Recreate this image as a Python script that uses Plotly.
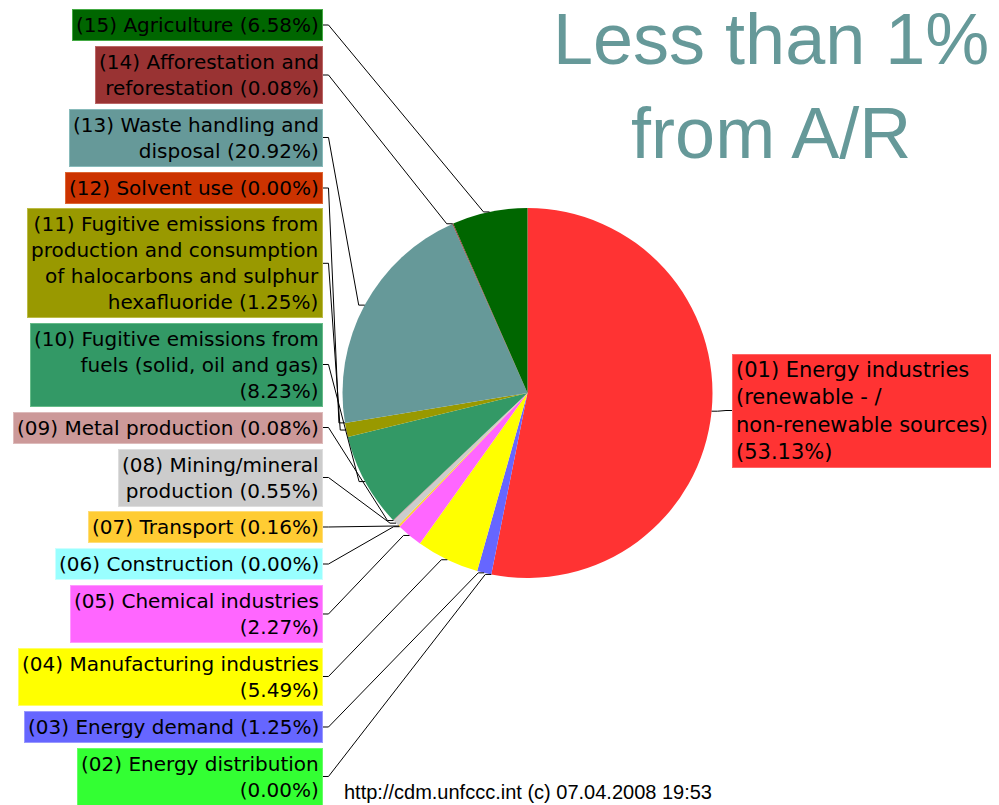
import math
import plotly.graph_objects as go

# ---------------- data ----------------
codes = ["(01)", "(02)", "(03)", "(04)", "(05)", "(06)", "(07)", "(08)",
         "(09)", "(10)", "(11)", "(12)", "(13)", "(14)", "(15)"]
sectors = [
    "Energy industries (renewable - / non-renewable sources)",
    "Energy distribution",
    "Energy demand",
    "Manufacturing industries",
    "Chemical industries",
    "Construction",
    "Transport",
    "Mining/mineral production",
    "Metal production",
    "Fugitive emissions from fuels (solid, oil and gas)",
    "Fugitive emissions from production and consumption of halocarbons and sulphur hexafluoride",
    "Solvent use",
    "Waste handling and disposal",
    "Afforestation and reforestation",
    "Agriculture",
]
shares = [53.13, 0.00, 1.25, 5.49, 2.27, 0.00, 0.16, 0.55,
          0.08, 8.23, 1.25, 0.00, 20.92, 0.08, 6.58]

# wrapped label text (the percentage is filled in from `shares`)
label_templates = [
    "(01) Energy industries<br>(renewable - /<br>non-renewable sources)<br>{pct}",
    "(02) Energy distribution<br>{pct}",
    "(03) Energy demand {pct}",
    "(04) Manufacturing industries<br>{pct}",
    "(05) Chemical industries<br>{pct}",
    "(06) Construction {pct}",
    "(07) Transport {pct}",
    "(08) Mining/mineral<br>production {pct}",
    "(09) Metal production {pct}",
    "(10) Fugitive emissions from<br>fuels (solid, oil and gas)<br>{pct}",
    "(11) Fugitive emissions from<br>production and consumption<br>of halocarbons and sulphur<br>hexafluoride {pct}",
    "(12) Solvent use {pct}",
    "(13) Waste handling and<br>disposal {pct}",
    "(14) Afforestation and<br>reforestation {pct}",
    "(15) Agriculture {pct}",
]

title_text = "Less than 1%<br>from A/R"
footer_text = "http://cdm.unfccc.int (c) 07.04.2008 19:53"

# ---------------- styling / layout ----------------
colors = ["#FF3333", "#33FF33", "#6666FF", "#FFFF00", "#FF66FF", "#99FFFF",
          "#FFCC33", "#CCCCCC", "#CC9999", "#339966", "#999900", "#CC3300",
          "#669999", "#993333", "#006600"]
border_colors = ["#FF6666", "#66FF66", "#9999FF", "#FFFF66", "#FF99FF", "#CCFFFF",
                 "#FFDD77", "#DDDDDD", "#DDBBBB", "#66BB88", "#BBBB44", "#DD6633",
                 "#88BBBB", "#BB6666", "#44AA44"]
# vertical centre of each label box (screen pixels from top)
label_y_px = [410.5, 776.5, 727.0, 676.5, 614.0, 564.0, 527.0, 477.5,
              427.5, 364.5, 263.3, 188.0, 137.5, 75.0, 25.0]
label_side = ["right"] + ["left"] * 14

# the page body has an 8px margin, so the figure is placed at (8, 8)
OFF = 8
W, H = 999 - OFF, 805 - OFF
CX, CY, R = 527.5, 393.0, 185.0
LEFT_BOX_RIGHT = 322.5
RIGHT_BOX_LEFT = 732.0


def xp(x):
    return (x - OFF) / W


def yp(y):
    return 1 - (y - OFF) / H


fig = go.Figure()
fig.add_trace(go.Pie(
    values=shares,
    labels=codes,
    customdata=sectors,
    marker=dict(colors=colors, line=dict(width=0)),
    sort=False,
    direction="clockwise",
    rotation=0,
    textinfo="none",
    hovertemplate="%{label} %{customdata}: %{value:.2f}%<extra></extra>",
    showlegend=False,
    domain=dict(x=[xp(CX - R), xp(CX + R)], y=[yp(CY + R), yp(CY - R)]),
))

total = sum(shares)
annotations = []
shapes = []
cum = 0.0
for i, v in enumerate(shares):
    mid = (cum + v / 2.0) / total
    cum += v
    a = 2 * math.pi * mid
    ex = CX + R * math.sin(a)
    ey = CY - R * math.cos(a)
    yc = label_y_px[i]
    text = label_templates[i].format(pct="(%.2f%%)" % v)
    if label_side[i] == "left":
        pts = [(LEFT_BOX_RIGHT, yc), (LEFT_BOX_RIGHT + 6, yc), (ex - 6, ey), (ex, ey)]
        annotations.append(dict(
            x=xp(LEFT_BOX_RIGHT), y=yp(yc), xref="paper", yref="paper",
            xanchor="right", yanchor="middle", align="right",
            text=text, showarrow=False,
            font=dict(family="DejaVu Sans", size=20, color="black"),
            bgcolor=colors[i], bordercolor=border_colors[i], borderwidth=1, borderpad=3,
        ))
    else:
        pts = [(ex, ey), (ex + 6, ey), (RIGHT_BOX_LEFT - 6, yc), (RIGHT_BOX_LEFT, yc)]
        annotations.append(dict(
            x=xp(RIGHT_BOX_LEFT), y=yp(yc), xref="paper", yref="paper",
            xanchor="left", yanchor="middle", align="left",
            text=text, showarrow=False,
            font=dict(family="DejaVu Sans", size=21, color="black"),
            bgcolor=colors[i], bordercolor=border_colors[i], borderwidth=1, borderpad=3,
        ))
    path = "M " + " L ".join("%.5f,%.5f" % (xp(x), yp(y)) for x, y in pts)
    shapes.append(dict(type="path", xref="paper", yref="paper", path=path,
                       line=dict(color="black", width=1)))

annotations.append(dict(
    x=xp(771), y=yp(86), xref="paper", yref="paper",
    xanchor="center", yanchor="middle", align="center",
    text=title_text, showarrow=False,
    font=dict(family="Liberation Sans, Arial", size=72, color="#669999"),
))
annotations.append(dict(
    x=xp(CX), y=yp(792), xref="paper", yref="paper",
    xanchor="center", yanchor="middle",
    text=footer_text, showarrow=False,
    font=dict(family="Liberation Sans, Arial", size=20, color="black"),
))

fig.update_layout(
    width=W, height=H,
    margin=dict(l=0, r=0, t=0, b=0),
    paper_bgcolor="white", plot_bgcolor="white",
    annotations=annotations,
    shapes=shapes,
)

fig.write_html("out.html")
